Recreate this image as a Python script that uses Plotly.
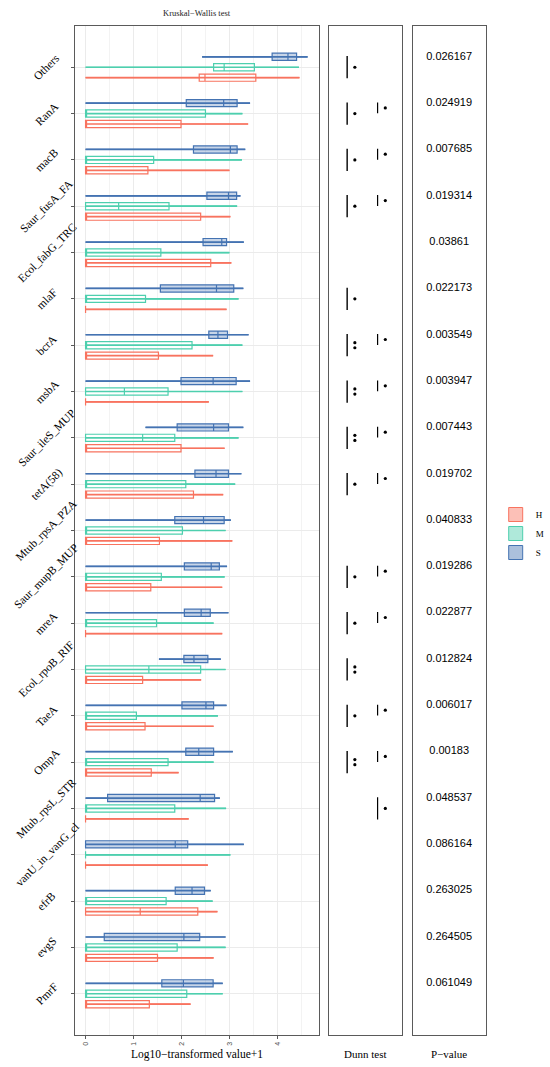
import plotly.graph_objects as go

genes = ["Others", "RanA", "macB", "Saur_fusA_FA", "Ecol_fabG_TRC", "mlaF", "bcrA",
         "msbA", "Saur_ileS_MUP", "tetA(58)", "Mtub_rpsA_PZA", "Saur_mupB_MUP", "mreA",
         "Ecol_rpoB_RIF", "TaeA", "OmpA", "Mtub_rpsL_STR", "vanU_in_vanG_cl", "efrB",
         "evgS", "PmrF"]

# S group box statistics
S_min = [2.43, 0, 0, 0, 0, 0, 0, 0, 1.25, 0, 0, 0, 0, 1.53, 0, 0, 0, 0, 0, 0, 0]
S_q1 = [3.89, 2.10, 2.25, 2.53, 2.45, 1.56, 2.57, 1.99, 1.91, 2.28, 1.86, 2.06, 2.06,
        2.05, 2.01, 2.09, 0.46, 0, 1.87, 0.39, 1.59]
S_med = [4.22, 2.88, 3.02, 2.98, 2.84, 2.73, 2.76, 2.66, 2.67, 2.72, 2.46, 2.62, 2.41,
         2.26, 2.51, 2.36, 2.39, 1.87, 2.22, 2.05, 2.04]
S_q3 = [4.40, 3.16, 3.16, 3.15, 2.94, 3.09, 2.96, 3.14, 2.98, 2.98, 2.89, 2.79, 2.60,
        2.55, 2.67, 2.67, 2.69, 2.13, 2.48, 2.38, 2.66]
S_max = [4.63, 3.43, 3.33, 3.23, 3.30, 3.29, 3.40, 3.43, 3.29, 3.25, 3.03, 2.95, 2.98,
         2.82, 2.94, 3.07, 2.80, 3.30, 2.61, 2.92, 2.86]

# M group box statistics
M_min = [0] * 21
M_q1 = [2.67, 0, 0, 0, 0, 0, 0, 0, 0, 0, 0, 0, 0, 0, 0, 0, 0, 0, 0, 0, 0]
M_med = [2.89, 0, 0, 0.69, 0, 0, 0, 0.81, 1.19, 0, 0, 0, 0, 1.32, 0, 0, 0, 0, 0, 0, 0]
M_q3 = [3.52, 2.50, 1.42, 1.74, 1.57, 1.25, 2.22, 1.72, 1.86, 2.09, 2.02, 1.58, 1.48,
        2.40, 1.06, 1.72, 1.86, 0, 1.68, 1.91, 2.11]
M_max = [4.45, 3.27, 3.26, 3.16, 3.00, 3.19, 3.27, 3.27, 3.19, 3.12, 2.92, 2.90, 2.67,
         2.92, 2.76, 2.67, 2.93, 3.02, 2.65, 2.92, 2.86]

# H group box statistics
H_min = [0] * 21
H_q1 = [2.37, 0, 0, 0, 0, 0, 0, 0, 0, 0, 0, 0, 0, 0, 0, 0, 0, 0, 0, 0, 0]
H_med = [2.49, 0, 0, 0, 0, 0, 0, 0, 0, 0, 0, 0, 0, 0, 0, 0, 0, 0, 1.14, 0, 0]
H_q3 = [3.55, 1.99, 1.30, 2.40, 2.61, 0, 1.52, 0, 1.99, 2.25, 1.54, 1.36, 0, 1.19, 1.24,
        1.37, 0, 0, 2.34, 1.50, 1.33]
H_max = [4.46, 3.39, 3.00, 3.02, 3.04, 2.94, 2.66, 2.57, 2.90, 2.87, 3.06, 2.85, 2.85,
         2.41, 2.67, 1.94, 2.15, 2.55, 2.75, 2.67, 2.19]

p_values = ["0.026167", "0.024919", "0.007685", "0.019314", "0.03861", "0.022173",
            "0.003549", "0.003947", "0.007443", "0.019702", "0.040833", "0.019286",
            "0.022877", "0.012824", "0.006017", "0.00183", "0.048537", "0.086164",
            "0.263025", "0.264505", "0.061049"]

# Dunn test marks: (gene, column, group from, group to, number of dots)
dunn_marks = [
    ("Others", 0, "S", "H", 1),
    ("RanA", 0, "S", "H", 1), ("RanA", 1, "S", "M", 1),
    ("macB", 0, "S", "H", 1), ("macB", 1, "S", "M", 1),
    ("Saur_fusA_FA", 0, "S", "H", 1), ("Saur_fusA_FA", 1, "S", "M", 1),
    ("mlaF", 0, "S", "H", 1),
    ("bcrA", 0, "S", "H", 2), ("bcrA", 1, "S", "M", 1),
    ("msbA", 0, "S", "H", 2), ("msbA", 1, "S", "M", 1),
    ("Saur_ileS_MUP", 0, "S", "H", 2), ("Saur_ileS_MUP", 1, "S", "M", 1),
    ("tetA(58)", 0, "S", "H", 1), ("tetA(58)", 1, "S", "M", 1),
    ("Saur_mupB_MUP", 0, "S", "H", 1), ("Saur_mupB_MUP", 1, "S", "M", 1),
    ("mreA", 0, "S", "H", 1), ("mreA", 1, "S", "M", 1),
    ("Ecol_rpoB_RIF", 0, "S", "H", 2),
    ("TaeA", 0, "S", "H", 1), ("TaeA", 1, "S", "M", 1),
    ("OmpA", 0, "S", "H", 2), ("OmpA", 1, "S", "M", 1),
    ("Mtub_rpsL_STR", 1, "S", "H", 1),
]

groups = ["H", "M", "S"]
colors = {"H": "#F8735F", "M": "#4ECFAE", "S": "#4473B2"}
fills = {"H": "rgba(255,255,255,0.6)", "M": "rgba(255,255,255,0.6)",
         "S": "rgba(68,115,178,0.30)"}
legend_fills = {"H": "rgba(248,115,95,0.45)", "M": "rgba(78,207,174,0.45)",
                "S": "rgba(68,115,178,0.45)"}
offsets = {"S": -0.225, "M": 0.0, "H": 0.225}
stats = {
    "S": (S_min, S_q1, S_med, S_q3, S_max),
    "M": (M_min, M_q1, M_med, M_q3, M_max),
    "H": (H_min, H_q1, H_med, H_q3, H_max),
}

n = len(genes)
idx = {g: i for i, g in enumerate(genes)}
fig = go.Figure()

# whisker (range) lines first
for g in groups:
    lo, q1, med, q3, hi = stats[g]
    xs, ys = [], []
    for i in range(n):
        p = i + offsets[g]
        xs += [lo[i], hi[i], None]
        ys += [p, p, None]
    fig.add_trace(go.Scatter(x=xs, y=ys, mode="lines",
                             line=dict(color=colors[g], width=1.7),
                             showlegend=False, hoverinfo="skip",
                             xaxis="x", yaxis="y"))

for g in groups:
    lo, q1, med, q3, hi = stats[g]
    pos = [i + offsets[g] for i in range(n)]
    fig.add_trace(go.Box(
        y=pos, q1=q1, median=med, q3=q3, lowerfence=lo, upperfence=hi,
        orientation="h", width=0.155, whiskerwidth=0,
        line=dict(color=colors[g], width=1.2), fillcolor=fills[g],
        name=g, boxpoints=False, xaxis="x", yaxis="y", hoverinfo="skip",
        showlegend=False))

# legend keys
for g in groups:
    fig.add_trace(go.Scatter(x=[None], y=[None], mode="markers", name=g,
                             marker=dict(symbol="square", size=14, color=legend_fills[g],
                                         line=dict(color=colors[g], width=1)),
                             xaxis="x", yaxis="y"))

# Dunn test panel
col_bar = [0.25, 0.665]
col_dot = [0.355, 0.77]
for gene, col, ga, gb, k in dunn_marks:
    i = idx[gene]
    y0 = i + offsets[ga] - 0.015
    y1 = i + offsets[gb] + (0.015 if gb == "H" else -0.005)
    fig.add_trace(go.Scatter(x=[col_bar[col], col_bar[col]], y=[y0, y1], mode="lines",
                             line=dict(color="black", width=1.4 if col == 0 else 1.2),
                             showlegend=False, hoverinfo="skip",
                             xaxis="x2", yaxis="y2"))
    ym = (y0 + y1) / 2
    dy = [0] if k == 1 else [-0.055, 0.055]
    fig.add_trace(go.Scatter(x=[col_dot[col]] * len(dy), y=[ym + d for d in dy],
                             mode="markers",
                             marker=dict(color="black", size=3.2, symbol="circle"),
                             showlegend=False, hoverinfo="skip",
                             xaxis="x2", yaxis="y2"))

# P-value panel
fig.add_trace(go.Scatter(x=[0.5] * n, y=[i + offsets["S"] for i in range(n)],
                         mode="text", text=p_values,
                         textfont=dict(family="Liberation Sans", size=11, color="black"),
                         showlegend=False, hoverinfo="skip", xaxis="x3", yaxis="y3"))

yr = [n - 1 + 0.89, -0.89]
ydom = [1 - 1035 / 1067, 1 - 26 / 1067]
frame = dict(showline=True, mirror=True, linecolor="#5A5A5A", linewidth=1.3)

# rotated category labels centred on their ticks
label_ann = [dict(text=g, x=48 / 550, y=i, xref="paper", yref="y", showarrow=False,
                  textangle=-45, xanchor="center", yanchor="middle",
                  font=dict(size=11.5, family="Liberation Serif", color="black"))
             for i, g in enumerate(genes)]

fig.update_layout(
    width=550, height=1067,
    margin=dict(l=0, r=0, t=0, b=0),
    paper_bgcolor="white", plot_bgcolor="white",
    font=dict(family="Liberation Serif", color="black"),
    boxmode="overlay",
    xaxis=dict(domain=[77.3 / 550, 329.3 / 550], range=[-0.222, 4.87],
               tickmode="array", tickvals=[0, 1, 2, 3, 4], ticktext=["0", "1", "2", "3", "4"],
               tickangle=-90, tickfont=dict(size=7, color="#4D4D4D", family="Liberation Sans"),
               ticks="outside", ticklen=3, tickcolor="#5A5A5A",
               showgrid=True, gridcolor="#EBEBEB", gridwidth=0.8,
               minor=dict(dtick=0.5, tick0=0, showgrid=True, gridcolor="#F3F3F3", gridwidth=0.6),
               zeroline=False, anchor="y", **frame),
    yaxis=dict(domain=ydom, range=yr, tickmode="array", tickvals=list(range(n)),
               showticklabels=False,
               ticks="outside", ticklen=3, tickcolor="#5A5A5A",
               showgrid=True, gridcolor="#EBEBEB", gridwidth=0.8,
               zeroline=False, anchor="x", **frame),
    xaxis2=dict(domain=[339.3 / 550, 415 / 550], range=[0, 1], showticklabels=False,
                ticks="", showgrid=False, zeroline=False, anchor="y2", **frame),
    yaxis2=dict(domain=ydom, range=yr, showticklabels=False, ticks="", showgrid=False,
                zeroline=False, anchor="x2", **frame),
    xaxis3=dict(domain=[425.7 / 550, 501.3 / 550], range=[0, 1], showticklabels=False,
                ticks="", showgrid=False, zeroline=False, anchor="y3", **frame),
    yaxis3=dict(domain=ydom, range=yr, showticklabels=False, ticks="", showgrid=False,
                zeroline=False, anchor="x3", **frame),
    legend=dict(x=0.93, y=1 - 500 / 1067, xanchor="left", yanchor="top",
                font=dict(family="Liberation Serif", size=9, color="black"),
                bgcolor="rgba(0,0,0,0)", tracegroupgap=0, itemwidth=30),
    annotations=label_ann + [
        dict(text="Kruskal\u2212Wallis test", x=203 / 550, y=1 - 13 / 1067,
             xref="paper", yref="paper", showarrow=False,
             xanchor="center", yanchor="middle",
             font=dict(size=8.5, family="Liberation Serif", color="#222")),
        dict(text="Log10\u2212transformed value+1", x=203 / 550, y=1 - 1054 / 1067,
             xref="paper", yref="paper", showarrow=False,
             xanchor="center", yanchor="middle",
             font=dict(size=11.5, family="Liberation Serif", color="black")),
        dict(text="Dunn test", x=377 / 550, y=1 - 1054 / 1067,
             xref="paper", yref="paper", showarrow=False,
             xanchor="center", yanchor="middle",
             font=dict(size=11, family="Liberation Serif", color="black")),
        dict(text="P\u2212value", x=463 / 550, y=1 - 1054 / 1067,
             xref="paper", yref="paper", showarrow=False,
             xanchor="center", yanchor="middle",
             font=dict(size=11, family="Liberation Serif", color="black")),
    ],
)

fig.write_html("out.html", config={"displayModeBar": False},
               post_script="document.body.style.margin='0px';"
                           "document.body.style.overflow='hidden';")
